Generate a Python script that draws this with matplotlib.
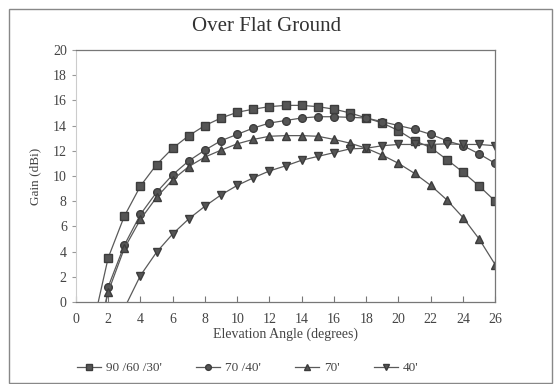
import numpy as np
import matplotlib.pyplot as plt
from matplotlib.patches import Rectangle

# elevation angles (degrees)
angles = list(range(1, 27))

# gain (dBi) per antenna stack
gain_90_60_30 = [-2.2, 3.5, 6.8, 9.2, 10.9, 12.2, 13.2, 14.0, 14.6, 15.05, 15.3, 15.5, 15.6,
                 15.6, 15.5, 15.3, 15.0, 14.6, 14.2, 13.6, 12.8, 12.25, 11.3, 10.3, 9.2, 8.0]
gain_70_40 = [-7.4, 1.2, 4.5, 6.95, 8.7, 10.1, 11.2, 12.05, 12.8, 13.3, 13.8, 14.2, 14.4,
              14.6, 14.7, 14.7, 14.65, 14.6, 14.3, 14.0, 13.7, 13.3, 12.8, 12.4, 11.75, 11.0]
gain_70 = [-4.9, 0.8, 4.25, 6.55, 8.3, 9.7, 10.75, 11.5, 12.05, 12.55, 12.9, 13.15, 13.2,
           13.2, 13.15, 12.9, 12.6, 12.2, 11.65, 11.0, 10.2, 9.25, 8.1, 6.7, 5.0, 2.95]
angles_40 = list(range(3, 27))
gain_40 = [-0.5, 2.1, 3.95, 5.4, 6.6, 7.6, 8.5, 9.25, 9.85, 10.4, 10.8, 11.25, 11.55,
           11.85, 12.15, 12.2, 12.4, 12.5, 12.5, 12.5, 12.55, 12.5, 12.5, 12.4]

labels = ["90 /60 /30'", "70 /40'", "70'", "40'"]
x_ticks = list(range(0, 27, 2))
y_ticks = list(range(0, 21, 2))

plt.rcParams['font.family'] = ['Liberation Serif', 'DejaVu Serif']

fig = plt.figure(figsize=(5.54, 3.84), dpi=100)
ax = fig.add_axes([0.137, 0.2135, 0.757, 0.6565])

line_kw = dict(color='#5a5a5a', linewidth=0.9, markeredgecolor='#3c3c3c',
               markerfacecolor='#555555', markersize=5.5)
ax.plot(angles, gain_90_60_30, marker='s', label=labels[0], **line_kw)
ax.plot(angles, gain_70_40, marker='o', label=labels[1], **line_kw)
ax.plot(angles, gain_70, marker='^', label=labels[2], **line_kw)
ax.plot(angles_40, gain_40, marker='v', label=labels[3], **line_kw)

ax.set_xlim(0, 26)
ax.set_ylim(0, 20)
ax.set_xticks(x_ticks)
ax.set_yticks(y_ticks)
ax.tick_params(axis='x', direction='in', length=4, color='#777777', labelsize=10,
               labelcolor='#444444', pad=8)
ax.tick_params(axis='y', direction='out', length=3, color='#999999', labelsize=10,
               labelcolor='#444444')
ax.spines['left'].set_color('#cccccc')
for s in ['top', 'right', 'bottom']:
    ax.spines[s].set_color('#777777')
    ax.spines[s].set_linewidth(0.9)

ax.set_xlabel('Elevation Angle (degrees)', fontsize=10, color='#444444', labelpad=1)
ax.set_ylabel('Gain (dBi)', fontsize=9.5, color='#444444', labelpad=8)
fig.text(0.482, 0.93, 'Over Flat Ground', ha='center', va='center', fontsize=15,
         color='#333333')

ax.legend(loc='center', bbox_to_anchor=(0.41, -0.262), ncol=4, frameon=False,
          fontsize=9.5, handlelength=1.8, handletextpad=0.4, columnspacing=2.6,
          labelcolor='#444444', markerscale=0.75)

fig.patches.append(Rectangle((9 / 554, 0.002), 543 / 554, 1 - 0.002 - 9 / 384,
                             transform=fig.transFigure, fill=False,
                             edgecolor='#888888', linewidth=1))

fig.savefig('out.png', dpi=100)
